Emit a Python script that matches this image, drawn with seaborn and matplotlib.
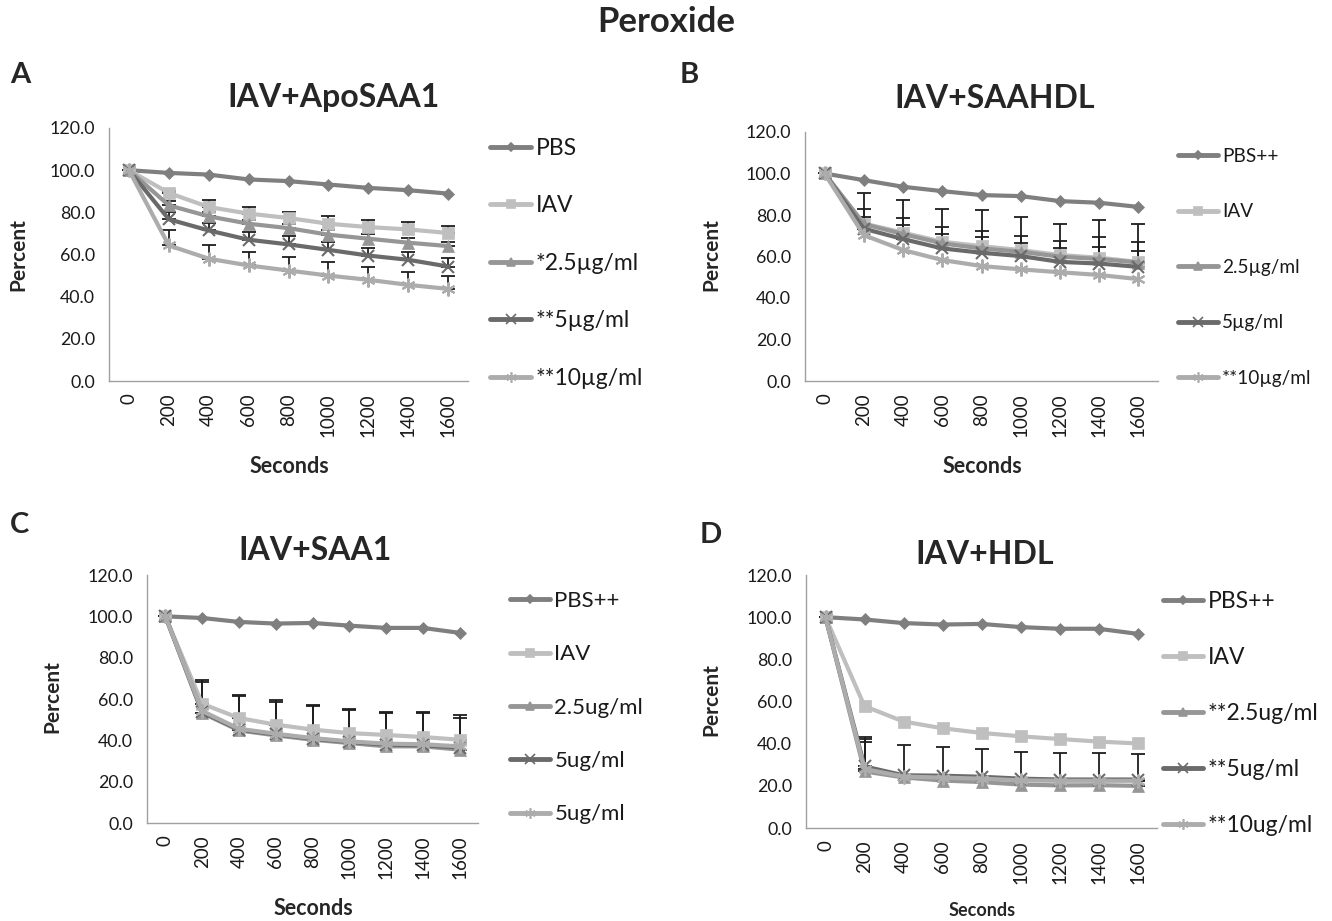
import numpy as np
import pandas as pd
import matplotlib
matplotlib.use("Agg")
import matplotlib.pyplot as plt
import seaborn as sns
from matplotlib.lines import Line2D

sns.set_style("white")
plt.rcParams['font.family'] = ['Lato', 'DejaVu Sans']

# -----------------------------
# data
# -----------------------------
seconds = [0, 200, 400, 600, 800, 1000, 1200, 1400, 1600]

a_pbs = [100, 98.7, 97.9, 95.6, 94.8, 93.2, 91.6, 90.5, 88.9]
a_iav = [100, 89.2, 82.5, 79.4, 77.3, 74.6, 73.0, 71.9, 70.2]
a_25 = [100, 83.3, 78.1, 74.6, 72.5, 69.4, 67.5, 65.6, 64.0]
a_5 = [100, 76.7, 71.4, 67.0, 64.8, 62.2, 59.5, 57.5, 54.3]
a_10 = [100, 64.3, 58.0, 54.8, 52.4, 50.0, 48.0, 45.6, 43.7]
a_err_iav = [np.nan, 1.0, 3.2, 3.1, 2.7, 3.7, 3.2, 3.3, 3.5]
a_err_25 = [np.nan, 2.0, 2.0, 2.0, 2.0, 2.0, 2.0, 2.0, 2.0]
a_err_5 = [np.nan, 3.5, 3.7, 3.6, 3.8, 3.7, 3.7, 3.9, 4.1]
a_err_10 = [np.nan, 7.1, 6.6, 6.5, 6.5, 6.5, 6.0, 6.1, 6.3]

b_pbs = [100, 96.8, 93.6, 91.5, 89.6, 89.1, 86.7, 85.9, 83.9]
b_iav = [100, 75.9, 71.5, 67.1, 65.0, 63.1, 60.7, 59.4, 57.4]
b_25 = [100, 75.6, 70.8, 66.3, 63.9, 62.3, 59.9, 58.8, 57.1]
b_5 = [100, 73.4, 68.4, 63.9, 61.8, 60.2, 57.4, 56.6, 55.0]
b_10 = [100, 70.3, 63.1, 58.3, 55.4, 53.8, 52.4, 51.1, 49.1]
b_err_iav = [np.nan, 14.5, 15.7, 16.0, 17.6, 15.8, 15.2, 18.4, 18.5]
b_err_25 = [np.nan, 7.1, 7.6, 8.1, 8.5, 7.8, 7.5, 10.4, 9.8]
b_err_5 = [np.nan, 5.5, 6.8, 6.9, 7.4, 6.4, 6.5, 7.8, 7.6]
b_err_10 = [np.nan] * 9

c_pbs = [100, 99.2, 97.3, 96.5, 96.8, 95.5, 94.4, 94.4, 92.0]
c_iav = [100, 57.7, 50.8, 47.6, 45.2, 43.5, 42.6, 41.6, 40.3]
c_25 = [100, 53.2, 44.8, 42.4, 40.3, 38.7, 37.1, 37.1, 35.5]
c_5 = [100, 53.7, 45.2, 42.9, 40.8, 39.2, 37.9, 37.6, 36.5]
c_5b = [100, 54.2, 45.6, 43.2, 41.1, 39.5, 38.4, 38.1, 37.1]
c_err_iav = [np.nan, 11.3, 11.1, 11.8, 11.8, 11.7, 11.1, 11.9, 12.1]
c_err_25 = [np.nan, 14.8, 16.5, 16.3, 16.2, 15.9, 15.9, 15.9, 15.3]
c_err_5 = [np.nan] * 9
c_err_5b = [np.nan] * 9

d_pbs = [100, 98.9, 97.2, 96.5, 96.8, 95.3, 94.5, 94.5, 92.1]
d_iav = [100, 57.8, 50.5, 47.3, 45.1, 43.5, 42.2, 41.0, 40.1]
d_25 = [100, 26.8, 24.0, 22.5, 21.8, 20.6, 20.2, 20.3, 20.0]
d_5 = [100, 29.2, 25.0, 24.8, 24.3, 23.4, 23.0, 23.0, 23.0]
d_10 = [100, 28.0, 24.4, 23.9, 23.4, 22.6, 22.4, 22.4, 22.4]
d_err_25 = [np.nan, 15.3, np.nan, np.nan, np.nan, np.nan, np.nan, np.nan, np.nan]
d_err_5 = [np.nan, 14.0, 14.5, 13.6, 13.2, 12.5, 12.6, 12.6, 12.2]
d_err_10 = [np.nan, 12.8, np.nan, np.nan, np.nan, np.nan, np.nan, np.nan, np.nan]

labels_a = ["PBS", "IAV", "*2.5µg/ml", "**5µg/ml", "**10µg/ml"]
labels_b = ["PBS++", "IAV", "2.5µg/ml", "5µg/ml", "**10µg/ml"]
labels_c = ["PBS++", "IAV", "2.5ug/ml", "5ug/ml", "5ug/ml"]
labels_d = ["PBS++", "IAV", "**2.5ug/ml", "**5ug/ml", "**10ug/ml"]

# styles for the five series
colors = ["#7f7f7f", "#bfbfbf", "#969696", "#6a6a6a", "#acacac"]
markers = ["D", "s", "^", "x", (6, 2, 0)]
msizes = [6.5, 8.5, 8.5, 9, 10]
lsizes = [4.5, 5.5, 5.5, 6.5, 7.5]

W, H = 1332, 921
fig = plt.figure(figsize=(W / 100, H / 100), dpi=100)


def rect(l, r, t, b):
    return [l / W, (H - b) / H, (r - l) / W, (b - t) / H]


def ftext(x, y, s, **kw):
    fig.text(x / W, (H - y) / H, s, **kw)


def panel(box, series, errs, labels, leg_xy, leg_fs, leg_sp, leg_hl):
    ax = fig.add_axes(rect(*box))
    pos = np.arange(len(seconds))
    for i, vals in enumerate(series):
        e = np.array(errs[i], dtype=float)
        if not np.all(np.isnan(e)):
            ax.errorbar(pos, vals, yerr=[np.zeros_like(e), e], fmt='none',
                        ecolor='#1e1e1e', elinewidth=1.3, capsize=5,
                        capthick=1.3, zorder=1.5)
    for i, vals in enumerate(series):
        mk = markers[i]
        filled = mk not in ("x", (6, 2, 0))
        sns.lineplot(x=pos, y=vals, ax=ax, color=colors[i], lw=3,
                     marker=mk, markersize=msizes[i],
                     markerfacecolor=colors[i] if filled else 'none',
                     markeredgecolor=colors[i], markeredgewidth=1.5 if not filled else 0.5,
                     zorder=2 + i * 0.1, legend=False)
    ax.set_xlim(-0.5, len(seconds) - 0.5)
    ax.set_ylim(0, 120)
    ax.set_yticks(np.arange(0, 121, 20))
    ax.set_yticklabels([f"{v:.1f}" for v in np.arange(0, 121, 20)], fontsize=12.8, color='#1a1a1a')
    ax.set_xticks(pos)
    ax.set_xticklabels(seconds, rotation=90, fontsize=13.5, color='#1a1a1a')
    ax.set_xticks(np.arange(-0.5, len(seconds)), minor=True)
    ax.tick_params(axis='x', which='major', length=0, pad=9)
    ax.tick_params(axis='x', which='minor', length=6, color='#a0a0a0', width=1)
    ax.tick_params(axis='y', length=5, color='#a0a0a0', width=1, pad=5)
    for s in ['top', 'right']:
        ax.spines[s].set_visible(False)
    for s in ['left', 'bottom']:
        ax.spines[s].set_color('#a0a0a0')
        ax.spines[s].set_linewidth(1)
    ax.set_xlabel("")
    ax.set_ylabel("")

    handles = [Line2D([], [], color=colors[i], lw=3.5, marker=markers[i],
                      markersize=lsizes[i], markeredgewidth=1.2,
                      markerfacecolor=colors[i] if markers[i] not in ("x", (6, 2, 0)) else 'none',
                      markeredgecolor=colors[i]) for i in range(5)]
    ax.legend(handles, labels, loc='upper left',
              bbox_to_anchor=(leg_xy[0] / W, (H - leg_xy[1]) / H),
              bbox_transform=fig.transFigure, frameon=False, fontsize=leg_fs,
              labelspacing=leg_sp, handlelength=leg_hl, handletextpad=0.2,
              borderpad=0, borderaxespad=0, labelcolor='#1a1a1a')
    return ax


panel((109, 468, 128, 381), [a_pbs, a_iav, a_25, a_5, a_10],
      [[np.nan] * 9, a_err_iav, a_err_25, a_err_5, a_err_10],
      labels_a, (490, 138), 16.5, 1.59, 1.8)
panel((805, 1158, 132, 381), [b_pbs, b_iav, b_25, b_5, b_10],
      [[np.nan] * 9, b_err_iav, b_err_25, b_err_5, b_err_10],
      labels_b, (1178, 148), 13.7, 2.02, 2.1)
panel((147, 478, 575, 823), [c_pbs, c_iav, c_25, c_5, c_5b],
      [[np.nan] * 9, c_err_iav, c_err_25, c_err_5, c_err_5b],
      labels_c, (510, 591), 16, 1.5, 1.8)
panel((806, 1157, 575, 828), [d_pbs, d_iav, d_25, d_5, d_10],
      [[np.nan] * 9, [np.nan] * 9, d_err_25, d_err_5, d_err_10],
      labels_d, (1163, 591), 16.5, 1.53, 1.75)

# titles and labels
ftext(666, 22, "Peroxide", fontsize=25, fontweight='bold', ha='center', va='center')
ftext(10, 75, "A", fontsize=21, fontweight='bold', ha='left', va='center')
ftext(680, 75, "B", fontsize=21, fontweight='bold', ha='left', va='center')
ftext(10, 525, "C", fontsize=21, fontweight='bold', ha='left', va='center')
ftext(700, 535, "D", fontsize=21, fontweight='bold', ha='left', va='center')

ftext(333, 98, "IAV+ApoSAA1", fontsize=23, fontweight='bold', ha='center', va='center')
ftext(995, 98, "IAV+SAAHDL", fontsize=23, fontweight='bold', ha='center', va='center')
ftext(315, 550, "IAV+SAA1", fontsize=23, fontweight='bold', ha='center', va='center')
ftext(985, 555, "IAV+HDL", fontsize=23, fontweight='bold', ha='center', va='center')

ftext(18, 255, "Percent", fontsize=15, fontweight='bold', rotation=90, ha='center', va='center')
ftext(711, 255, "Percent", fontsize=15, fontweight='bold', rotation=90, ha='center', va='center')
ftext(52, 697, "Percent", fontsize=15, fontweight='bold', rotation=90, ha='center', va='center')
ftext(711, 700, "Percent", fontsize=15, fontweight='bold', rotation=90, ha='center', va='center')

ftext(289, 466, "Seconds", fontsize=15.5, fontweight='bold', ha='center', va='center')
ftext(982, 466, "Seconds", fontsize=15.5, fontweight='bold', ha='center', va='center')
ftext(313, 908, "Seconds", fontsize=15.5, fontweight='bold', ha='center', va='center')
ftext(982, 910, "Seconds", fontsize=13, fontweight='bold', ha='center', va='center')

fig.savefig("out.png", dpi=100)
